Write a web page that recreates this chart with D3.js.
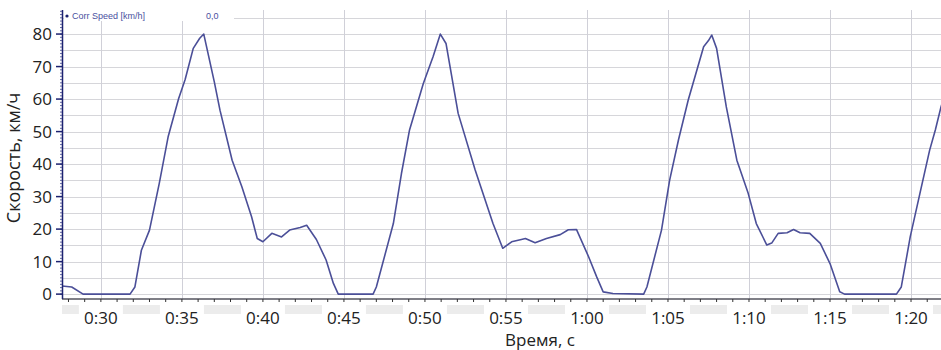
<!DOCTYPE html>
<html>
  <head>
    <meta charset="utf-8">
    <title>speed</title>
    <style>
      body { margin: 0; background: white; }
      svg { display: block; }
    </style>
  </head>
  <body>
    <div id="chart"></div>
    <script src="https://d3js.org/d3.v7.min.js"></script>
    <script>
    // time, seconds
    var time = [27.6, 28.2, 28.9, 31.8, 32.1, 32.5, 33.0, 33.6, 34.15, 34.8, 35.2, 35.7, 36.1, 36.35, 36.5,
      37.0, 37.35, 38.1, 38.7, 39.3, 39.65, 40.0, 40.55, 41.15, 41.65, 42.3, 42.7, 43.3, 43.9, 44.35, 44.65,
      46.8, 47.0, 48.05, 48.55, 49.05, 49.9, 50.5, 50.95, 51.3, 52.05, 53.1, 54.2, 54.8, 55.35, 55.95, 56.2,
      56.8, 57.5, 58.35, 58.85, 59.35, 60.1, 60.6, 61.0, 61.6, 63.5, 63.7, 64.6, 65.1, 65.65, 66.25, 67.2,
      67.5, 67.7, 68.0, 68.6, 69.25, 69.95, 70.45, 71.1, 71.4, 71.8, 72.35, 72.75, 73.15, 73.75, 74.4, 75.0,
      75.6, 75.9, 79.1, 79.4, 79.95, 80.55, 81.15, 81.5, 81.85, 82.2];
    // km/h
    var speed = [2.5, 2.2, 0, 0, 2.2, 13.5, 19.7, 34, 48.4, 60.2, 66, 75.6, 78.7, 80, 76.6,
      65.3, 56.6, 41.2, 33, 23.8, 17.1, 16.1, 18.7, 17.6, 19.7, 20.5, 21.2, 16.8, 10.5, 3.3, 0,
      0, 2.2, 21.7, 37.1, 50.5, 64.8, 73, 80, 77.1, 55.6, 38.2, 21.7, 14.1, 16.1, 16.8, 17.1,
      15.8, 17.1, 18.3, 19.8, 19.9, 11.5, 5.3, 0.7, 0.2, 0, 2.2, 19.7, 35, 47.5, 59.7, 76.1,
      78, 79.7, 75.6, 57.6, 41.2, 31, 21.7, 15.1, 15.7, 18.7, 18.9, 19.9, 18.9, 18.7, 15.6, 9.4,
      0.7, 0, 0, 2.2, 17.6, 31, 44.3, 50.5, 57.6, 63];

    var xTicks = [30, 35, 40, 45, 50, 55, 60, 65, 70, 75, 80];
    var yTicks = [0, 10, 20, 30, 40, 50, 60, 70, 80];
    var yGrid = d3.range(0, 90, 5);
    var xLabel = "Время, с";
    var yLabel = "Скорость, км/ч";
    var legendName = "Corr Speed [km/h]";
    var legendValue = "0,0";

    var width = 941, height = 350;
    var plotL = 62, plotR = 941, plotT = 10, plotB = 299;

    var x = d3.scaleLinear().domain([27.6, 81.85]).range([plotL, plotR]);
    var y = d3.scaleLinear().domain([-1.5, 87.4]).range([plotB, plotT]);

    var svg = d3.select("#chart").append("svg")
      .attr("width", width)
      .attr("height", height);

    svg.append("defs").append("clipPath").attr("id", "clip")
      .append("rect")
        .attr("x", plotL).attr("y", plotT)
        .attr("width", plotR - plotL).attr("height", plotB - plotT);

    // grid
    svg.append("g").selectAll("line")
      .data(yGrid)
      .enter().append("line")
        .attr("x1", plotL).attr("x2", plotR)
        .attr("y1", function(d) { return Math.round(y(d)) + 0.5; })
        .attr("y2", function(d) { return Math.round(y(d)) + 0.5; })
        .attr("stroke", "#d6d6da")
        .attr("stroke-width", 1.2);

    svg.append("g").selectAll("line")
      .data(xTicks)
      .enter().append("line")
        .attr("x1", function(d) { return Math.round(x(d)) + 0.5; })
        .attr("x2", function(d) { return Math.round(x(d)) + 0.5; })
        .attr("y1", plotT).attr("y2", plotB)
        .attr("stroke", "#d0d0d8")
        .attr("stroke-width", 1);

    // legend strip
    svg.append("rect")
      .attr("x", plotL + 2).attr("y", 10).attr("width", 170).attr("height", 11)
      .attr("fill", "white");
    svg.append("circle")
      .attr("cx", plotL + 5).attr("cy", 16).attr("r", 1.6)
      .attr("fill", "#1c2270");
    svg.append("text")
      .attr("x", plotL + 10).attr("y", 19)
      .attr("font-family", "Liberation Sans, Arial, sans-serif")
      .attr("font-size", 9)
      .attr("fill", "#4a50a0")
      .text(legendName);
    svg.append("text")
      .attr("x", 206).attr("y", 19)
      .attr("font-family", "Liberation Sans, Arial, sans-serif")
      .attr("font-size", 9)
      .attr("fill", "#4a50a0")
      .text(legendValue);

    // scroll band under x axis
    svg.append("rect")
      .attr("x", plotL).attr("y", 305).attr("width", plotR - plotL).attr("height", 9)
      .attr("fill", "#ececec");

    // line
    var line = d3.line()
      .x(function(d, i) { return x(time[i]); })
      .y(function(d) { return y(d); });

    svg.append("path")
      .datum(speed)
      .attr("clip-path", "url(#clip)")
      .attr("d", line)
      .attr("fill", "none")
      .attr("stroke", "#4b4f98")
      .attr("stroke-width", 1.6)
      .attr("stroke-linejoin", "round");

    // x axis
    var xAxis = svg.append("g")
      .attr("transform", "translate(0," + plotB + ")");
    xAxis.append("line")
      .attr("x1", plotL).attr("x2", plotR)
      .attr("stroke", "#55555f").attr("stroke-width", 1.5);
    xAxis.selectAll(".minor")
      .data(d3.range(28, 82))
      .enter().append("line")
        .attr("x1", function(d) { return x(d); })
        .attr("x2", function(d) { return x(d); })
        .attr("y1", 0).attr("y2", 3)
        .attr("stroke", "#333");
    xAxis.selectAll(".lbg")
      .data(xTicks)
      .enter().append("rect")
        .attr("x", function(d) { return x(d) - 22; })
        .attr("y", 5).attr("width", 44).attr("height", 16)
        .attr("fill", "white");
    xAxis.selectAll("text")
      .data(xTicks)
      .enter().append("text")
        .attr("x", function(d) { return x(d); })
        .attr("y", 25)
        .attr("text-anchor", "middle")
        .attr("font-family", "Open Sans, sans-serif")
        .attr("font-size", 17)
        .attr("fill", "#222")
        .text(function(d) { return Math.floor(d / 60) + ":" + d3.format("02")(d % 60); });

    // y axis
    var yAxis = svg.append("g");
    yAxis.append("line")
      .attr("x1", plotL + 0.5).attr("x2", plotL + 0.5)
      .attr("y1", plotT).attr("y2", plotB)
      .attr("stroke", "#1c2270").attr("stroke-width", 1.5);
    yAxis.selectAll(".minor")
      .data(d3.range(0, 88))
      .enter().append("line")
        .attr("x1", plotL - 2).attr("x2", plotL)
        .attr("y1", function(d) { return y(d); })
        .attr("y2", function(d) { return y(d); })
        .attr("stroke", "#3a3f8a").attr("stroke-width", 0.8);
    yAxis.selectAll(".major")
      .data(yTicks)
      .enter().append("line")
        .attr("x1", plotL - 6).attr("x2", plotL)
        .attr("y1", function(d) { return y(d); })
        .attr("y2", function(d) { return y(d); })
        .attr("stroke", "#1c2270").attr("stroke-width", 1.5);
    yAxis.selectAll("text")
      .data(yTicks)
      .enter().append("text")
        .attr("x", 52)
        .attr("y", function(d) { return y(d) + 6; })
        .attr("text-anchor", "end")
        .attr("font-family", "Open Sans, sans-serif")
        .attr("font-size", 17)
        .attr("fill", "#222")
        .text(function(d) { return d; });

    // titles
    svg.append("text")
      .attr("x", 540).attr("y", 346)
      .attr("text-anchor", "middle")
      .attr("font-family", "Open Sans, sans-serif")
      .attr("font-size", 17)
      .attr("fill", "#222")
      .text(xLabel);
    svg.append("text")
      .attr("transform", "translate(20,158) rotate(-90)")
      .attr("text-anchor", "middle")
      .attr("font-family", "Open Sans, sans-serif")
      .attr("font-size", 18)
      .attr("fill", "#222")
      .text(yLabel);
    </script>
  </body>
</html>
